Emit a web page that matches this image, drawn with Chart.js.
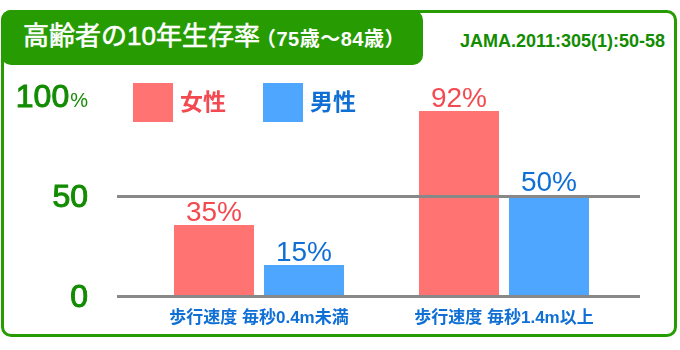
<!DOCTYPE html>
<html lang="ja">
<head>
<meta charset="utf-8">
<title>高齢者の10年生存率</title>
<script src="https://cdn.jsdelivr.net/npm/chart.js@4/dist/chart.umd.min.js"></script>
<style>
  html, body { margin: 0; padding: 0; background: #ffffff; }
  #wrap { position: relative; width: 680px; height: 350px; overflow: hidden;
          font-family: "Liberation Sans", "Noto Sans CJK JP", sans-serif; }
  #frame { position: absolute; left: 1px; top: 10px; width: 670px; height: 321px;
           border: 3px solid #279b02; border-radius: 10px; }
  #tab { position: absolute; left: 1px; top: 10px; width: 422px; height: 55px;
         background: #279b02; border-radius: 10px; color: #ffffff; white-space: nowrap; }
  #tab .main { position: absolute; left: 22px; top: 10px; font-size: 26px; line-height: 32px;
               -webkit-text-stroke: 0.6px #ffffff; }
  #tab .sub { position: absolute; left: 255px; top: 15px; font-size: 20px; line-height: 28px;
              font-weight: bold; letter-spacing: 0.5px; }
  #cite { position: absolute; right: 15px; top: 30px; font-size: 18px; line-height: 22px;
          font-weight: bold; color: #128c00; white-space: nowrap; }
  #chart { position: absolute; left: 0; top: 0; }
</style>
</head>
<body>
<div id="wrap">
  <div id="frame"></div>
  <div id="tab"><span class="main">高齢者の10年生存率</span><span class="sub">（75歳〜84歳）</span></div>
  <div id="cite">JAMA.2011:305(1):50-58</div>
  <canvas id="chart" width="680" height="350"></canvas>
</div>
<script>
// Walking speed groups and 10-year survival (%) by sex
const categories = ['歩行速度 毎秒0.4m未満', '歩行速度 毎秒1.4m以上'];
const seriesNames = ['女性', '男性'];
const female = [35, 92];
const male = [15, 50];
const yTicks = [0, 50, 100];
const gridValues = [0, 50];

const FONT = '"Liberation Sans", "Noto Sans CJK JP", sans-serif';
const barColors = ['#ff7373', '#4ea6ff'];
const textColors = ['#f24a50', '#0f6fd5'];
const green = '#128c00';

// fill plus a thin outline gives a medium weight
function heavyText(ctx, text, x, y) {
  ctx.fillText(text, x, y);
  ctx.strokeText(text, x, y);
}

const decor = {
  id: 'decor',
  afterDatasetsDraw(chart) {
    const ctx = chart.ctx;
    const y = chart.scales.y;
    ctx.save();

    // horizontal rules at 0 and 50, drawn over the bars
    ctx.strokeStyle = '#888888';
    ctx.lineWidth = 3;
    gridValues.forEach(v => {
      const py = y.getPixelForValue(v) + 1.5;
      ctx.beginPath();
      ctx.moveTo(117, py);
      ctx.lineTo(640, py);
      ctx.stroke();
    });

    // value labels above each bar
    ctx.textAlign = 'center';
    ctx.textBaseline = 'alphabetic';
    ctx.font = '28px ' + FONT;
    chart.data.datasets.forEach((ds, i) => {
      const meta = chart.getDatasetMeta(i);
      ctx.fillStyle = textColors[i];
      meta.data.forEach((bar, j) => {
        ctx.fillText(ds.data[j] + '%', bar.x, bar.y - 4);
      });
    });

    // y tick labels
    ctx.fillStyle = green;
    ctx.strokeStyle = green;
    ctx.lineWidth = 1;
    ctx.textAlign = 'right';
    yTicks.forEach(v => {
      const py = y.getPixelForValue(v) + 11.5;
      if (v === 100) {
        ctx.font = '20px ' + FONT;
        const pw = ctx.measureText('%').width;
        ctx.fillText('%', 88, py);
        ctx.font = '32px ' + FONT;
        heavyText(ctx, String(v), 88 - pw - 1, py);
      } else {
        ctx.font = '32px ' + FONT;
        heavyText(ctx, String(v), 88, py);
      }
    });

    // legend
    const boxes = [133, 263];
    ctx.textAlign = 'left';
    ctx.textBaseline = 'middle';
    ctx.font = 'bold 23px ' + FONT;
    chart.data.datasets.forEach((ds, i) => {
      ctx.fillStyle = ds.backgroundColor;
      ctx.fillRect(boxes[i], 83, 40, 39);
      ctx.fillStyle = textColors[i];
      ctx.fillText(ds.label, boxes[i] + 47, 104);
    });

    ctx.restore();
  }
};

new Chart(document.getElementById('chart'), {
  type: 'bar',
  data: {
    labels: categories,
    datasets: [
      { label: seriesNames[0], data: female, backgroundColor: barColors[0] },
      { label: seriesNames[1], data: male, backgroundColor: barColors[1] }
    ]
  },
  options: {
    responsive: false,
    animation: false,
    devicePixelRatio: 1,
    categoryPercentage: 0.7347,
    barPercentage: 0.889,
    layout: { padding: { left: 136.5, right: 53.5, top: 95, bottom: 15 } },
    plugins: { legend: { display: false }, tooltip: { enabled: false } },
    scales: {
      x: {
        grid: { display: false, drawTicks: false },
        border: { display: false },
        ticks: { color: '#0f6fd5', padding: 13, font: { family: FONT, size: 17, weight: 'bold' } },
        afterFit: s => { s.height = 40; }
      },
      y: { display: false, min: 0, max: 100 }
    }
  },
  plugins: [decor]
});
</script>
</body>
</html>
